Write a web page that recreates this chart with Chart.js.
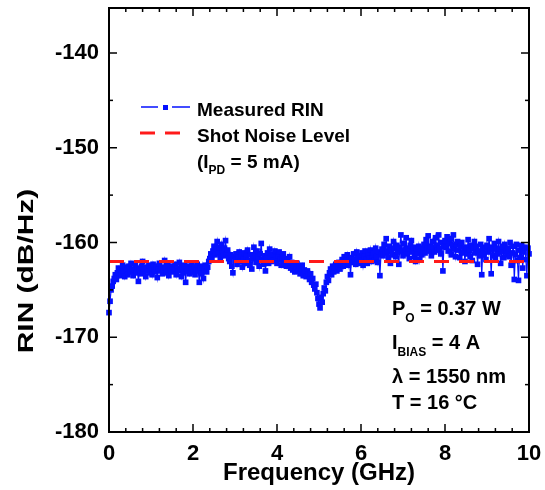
<!DOCTYPE html>
<html>
<head>
<meta charset="utf-8">
<script src="https://cdn.jsdelivr.net/npm/chart.js@4.4.1/dist/chart.umd.min.js"></script>
<style>
html,body{margin:0;padding:0;background:#fff;}
#c{display:block;}
</style>
</head>
<body>
<canvas id="c" width="545" height="490" style="width:545px;height:490px"></canvas>
<script>
// ---------- DATA ----------
const freqMHz = [
 0,25,50,75,100,125,150,175,200,225,250,275,300,325,350,375,400,425,450,475,
 500,525,550,575,600,625,650,675,700,725,750,775,800,825,850,875,900,925,950,975,
 1000,1025,1050,1075,1100,1125,1150,1175,1200,1225,1250,1275,1300,1325,1350,1375,1400,1425,1450,1475,
 1500,1525,1550,1575,1600,1625,1650,1675,1700,1725,1750,1775,1800,1825,1850,1875,1900,1925,1950,1975,
 2000,2025,2050,2075,2100,2125,2150,2175,2200,2225,2250,2275,2300,2325,2350,2375,2400,2425,2450,2475,
 2500,2525,2550,2575,2600,2625,2650,2675,2700,2725,2750,2775,2800,2825,2850,2875,2900,2925,2950,2975,
 3000,3025,3050,3075,3100,3125,3150,3175,3200,3225,3250,3275,3300,3325,3350,3375,3400,3425,3450,3475,
 3500,3525,3550,3575,3600,3625,3650,3675,3700,3725,3750,3775,3800,3825,3850,3875,3900,3925,3950,3975,
 4000,4025,4050,4075,4100,4125,4150,4175,4200,4225,4250,4275,4300,4325,4350,4375,4400,4425,4450,4475,
 4500,4525,4550,4575,4600,4625,4650,4675,4700,4725,4750,4775,4800,4825,4850,4875,4900,4925,4950,4975,
 5000,5025,5050,5075,5100,5125,5150,5175,5200,5225,5250,5275,5300,5325,5350,5375,5400,5425,5450,5475,
 5500,5525,5550,5575,5600,5625,5650,5675,5700,5725,5750,5775,5800,5825,5850,5875,5900,5925,5950,5975,
 6000,6025,6050,6075,6100,6125,6150,6175,6200,6225,6250,6275,6300,6325,6350,6375,6400,6425,6450,6475,
 6500,6525,6550,6575,6600,6625,6650,6675,6700,6725,6750,6775,6800,6825,6850,6875,6900,6925,6950,6975,
 7000,7025,7050,7075,7100,7125,7150,7175,7200,7225,7250,7275,7300,7325,7350,7375,7400,7425,7450,7475,
 7500,7525,7550,7575,7600,7625,7650,7675,7700,7725,7750,7775,7800,7825,7850,7875,7900,7925,7950,7975,
 8000,8025,8050,8075,8100,8125,8150,8175,8200,8225,8250,8275,8300,8325,8350,8375,8400,8425,8450,8475,
 8500,8525,8550,8575,8600,8625,8650,8675,8700,8725,8750,8775,8800,8825,8850,8875,8900,8925,8950,8975,
 9000,9025,9050,9075,9100,9125,9150,9175,9200,9225,9250,9275,9300,9325,9350,9375,9400,9425,9450,9475,
 9500,9525,9550,9575,9600,9625,9650,9675,9700,9725,9750,9775,9800,9825,9850,9875,9900,9925,9950,9975,
 10000
];
const measuredRIN = [
 -167.4,-166.2,-165.0,-164.6,-164.1,-163.8,-163.4,-163.9,-163.2,-162.7,-163.5,-162.9,-163.3,-162.4,-163.0,-163.6,-162.6,-162.9,-163.4,-162.5,
 -163.1,-162.2,-162.8,-163.5,-162.9,-162.3,-163.2,-162.7,-164.1,-162.9,-163.3,-162.5,-162.0,-163.1,-162.8,-163.6,-162.6,-163.0,-162.4,-163.2,
 -162.7,-163.4,-162.3,-162.9,-163.1,-162.5,-163.7,-162.8,-162.2,-163.0,-162.6,-163.3,-162.9,-161.9,-162.7,-163.2,-162.4,-163.5,-162.8,-163.0,
 -162.5,-163.1,-162.8,-162.3,-163.4,-162.7,-163.0,-162.1,-162.9,-163.6,-162.6,-163.2,-162.4,-164.2,-162.8,-163.0,-162.5,-163.3,-162.7,-162.2,
 -163.1,-162.6,-163.4,-162.9,-162.3,-163.0,-164.2,-162.7,-163.3,-162.5,-163.8,-162.9,-162.4,-163.1,-162.6,-162.0,-161.7,-161.2,-161.6,-160.9,
 -160.4,-161.3,-160.7,-159.9,-161.1,-160.5,-161.6,-160.2,-160.9,-161.4,-160.6,-159.8,-161.2,-160.8,-161.7,-162.0,-161.3,-162.5,-163.2,-161.5,
 -161.9,-161.2,-162.3,-161.6,-161.0,-162.0,-161.4,-162.6,-161.8,-161.1,-162.2,-161.5,-160.8,-161.9,-162.4,-161.3,-162.8,-161.7,-160.5,-161.4,
 -162.1,-160.9,-161.6,-162.5,-161.2,-160.1,-161.8,-162.3,-161.4,-163.0,-161.7,-161.1,-162.2,-160.7,-161.5,-162.0,-161.3,-161.9,-160.9,-161.6,
 -162.2,-161.4,-161.0,-161.8,-162.4,-161.6,-161.2,-162.1,-161.7,-162.5,-161.9,-162.3,-161.5,-162.7,-162.1,-162.9,-162.4,-163.1,-162.6,-162.2,
 -163.0,-162.5,-163.3,-162.8,-162.4,-163.5,-162.9,-163.2,-163.6,-163.0,-163.4,-163.9,-163.3,-164.2,-163.8,-164.5,-164.9,-164.4,-165.3,-165.9,
 -166.5,-166.9,-165.8,-166.3,-165.4,-164.8,-165.1,-164.2,-163.6,-164.0,-163.2,-162.8,-163.4,-162.5,-163.1,-162.7,-162.3,-163.0,-162.6,-162.1,
 -162.8,-162.3,-161.8,-162.5,-161.5,-162.2,-161.9,-161.3,-162.4,-161.7,-163.4,-161.6,-162.1,-161.2,-161.8,-162.3,-161.0,-161.7,-162.2,-161.4,
 -161.9,-161.1,-162.4,-161.5,-160.9,-161.8,-162.2,-161.3,-161.7,-160.8,-162.0,-161.4,-161.1,-161.9,-160.6,-161.5,-162.1,-161.0,-163.5,-161.3,
 -160.7,-161.4,-160.2,-161.1,-159.6,-160.9,-161.6,-160.4,-162.2,-160.8,-161.3,-159.9,-160.6,-161.5,-160.3,-161.0,-162.3,-160.5,-159.2,-160.9,
 -161.4,-160.1,-160.8,-159.5,-161.2,-160.6,-161.7,-160.3,-159.8,-161.0,-160.5,-161.5,-162.0,-160.7,-161.2,-160.4,-161.8,-160.9,-161.3,-160.6,
 -160.2,-161.1,-159.7,-160.6,-159.3,-160.9,-160.4,-161.4,-159.9,-160.5,-161.0,-159.5,-160.3,-160.8,-159.2,-160.6,-161.2,-160.0,-163.0,-160.4,
 -159.8,-160.5,-159.4,-160.9,-160.1,-159.6,-161.3,-160.3,-159.2,-160.7,-161.5,-160.2,-159.9,-160.8,-161.6,-160.4,-160.0,-161.1,-160.6,-162.0,
 -160.5,-161.2,-159.7,-160.8,-161.5,-160.3,-161.9,-160.6,-159.9,-161.1,-160.4,-162.3,-160.9,-161.4,-160.2,-163.4,-160.7,-161.3,-160.5,-161.8,
 -160.3,-161.0,-159.6,-160.8,-163.3,-160.5,-161.4,-160.1,-161.7,-160.6,-161.2,-159.9,-160.7,-162.2,-161.0,-160.4,-161.6,-160.2,-160.9,-161.3,
 -160.6,-161.5,-160.0,-162.4,-161.1,-160.4,-163.9,-161.3,-160.2,-161.9,-164.0,-160.8,-161.6,-160.3,-162.7,-161.0,-160.5,-161.8,-163.5,-160.6,
 -161.2
];
const shotFreqGHz = [0, 10];
const shotNoiseRIN = [-162.0, -162.0];

const xMajorTicks = [0, 2, 4, 6, 8, 10];
const xMinorTicks = [0.4,0.8,1.2,1.6,2.4,2.8,3.2,3.6,4.4,4.8,5.2,5.6,6.4,6.8,7.2,7.6,8.4,8.8,9.2,9.6];
const yMajorTicks = [-180, -170, -160, -150, -140];
const yMinorTicks = [-175, -165, -155, -145];

const seriesNames = ['Measured RIN', 'Shot Noise Level'];
const xTitle = 'Frequency (GHz)';
const yTitle = 'RIN (dB/Hz)';
const annotationLines = [
  [['P',0],['O',1],[' = 0.37 W',0]],
  [['I',0],['BIAS',1],[' = 4 A',0]],
  [['\u03BB = 1550 nm',0]],
  [['T = 16 \u00B0C',0]]
];
const legendNote = [['(I',0],['PD',1],[' = 5 mA)',0]];

// ---------- CHART ----------
const FONT = "'Liberation Sans', Arial, Helvetica, sans-serif";
const BLUE = '#0510ff';
const RED = '#ff1a1a';

function drawParts(ctx, x, y, parts, size, subSize, subDrop) {
  let cx = x;
  parts.forEach(([t, sub]) => {
    ctx.font = 'bold ' + (sub ? subSize : size) + 'px ' + FONT;
    ctx.fillText(t, cx, sub ? y + subDrop : y);
    cx += ctx.measureText(t).width;
  });
}

const framePlugin = {
  id: 'frame',
  afterDraw(chart) {
    const ctx = chart.ctx;
    const {left, right, top, bottom} = chart.chartArea;
    const xs = chart.scales.x, ys = chart.scales.y;
    ctx.save();
    ctx.strokeStyle = '#000';
    ctx.lineWidth = 1.5;
    const seg = (a, b, c, d) => { ctx.beginPath(); ctx.moveTo(a, b); ctx.lineTo(c, d); ctx.stroke(); };
    xMajorTicks.forEach(v => { const p = xs.getPixelForValue(v); seg(p, bottom, p, bottom - 8); seg(p, top, p, top + 8); });
    xMinorTicks.forEach(v => { const p = xs.getPixelForValue(v); seg(p, bottom, p, bottom - 4); seg(p, top, p, top + 4); });
    yMajorTicks.forEach(v => { const p = ys.getPixelForValue(v); seg(left, p, left + 8, p); seg(right, p, right - 8, p); });
    yMinorTicks.forEach(v => { const p = ys.getPixelForValue(v); seg(left, p, left + 4, p); seg(right, p, right - 4, p); });
    ctx.lineWidth = 2;
    ctx.strokeRect(left, top, right - left, bottom - top);

    // y axis title (stretched along its length like the original)
    ctx.save();
    ctx.fillStyle = '#000';
    ctx.translate(33, 271);
    ctx.rotate(-Math.PI / 2);
    ctx.scale(1.36, 1);
    ctx.font = 'bold 22px ' + FONT;
    ctx.textAlign = 'center';
    ctx.textBaseline = 'alphabetic';
    ctx.fillText(yTitle, 0, 0);
    ctx.restore();

    // legend
    ctx.fillStyle = '#000';
    ctx.textBaseline = 'alphabetic';
    ctx.textAlign = 'left';
    ctx.strokeStyle = BLUE;
    ctx.lineWidth = 1.5;
    seg(141, 107, 158, 107);
    seg(172, 107, 190, 107);
    ctx.fillStyle = BLUE;
    ctx.fillRect(163, 105, 5, 5);
    ctx.strokeStyle = RED;
    ctx.lineWidth = 3;
    seg(140, 133, 155, 133);
    seg(165, 133, 180, 133);
    ctx.fillStyle = '#000';
    ctx.font = 'bold 19px ' + FONT;
    ctx.fillText(seriesNames[0], 197, 116);
    ctx.fillText(seriesNames[1], 197, 142);
    drawParts(ctx, 197, 168, legendNote, 19, 12, 6);

    // annotation
    const baselines = [315, 349, 383, 409];
    annotationLines.forEach((parts, i) => drawParts(ctx, 392, baselines[i], parts, 20, 12, 7));
    ctx.restore();
  }
};

new Chart(document.getElementById('c'), {
  type: 'scatter',
  data: {
    datasets: [
      {
        label: seriesNames[1],
        data: shotFreqGHz.map((f, i) => ({x: f, y: shotNoiseRIN[i]})),
        showLine: true,
        borderColor: RED,
        borderWidth: 3,
        borderDash: [15, 10],
        pointRadius: 0,
        order: 0
      },
      {
        label: seriesNames[0],
        data: freqMHz.map((f, i) => ({x: f / 1000, y: measuredRIN[i]})),
        showLine: true,
        borderColor: BLUE,
        backgroundColor: BLUE,
        borderWidth: 1.2,
        pointStyle: 'rect',
        pointRadius: 4,
        pointBorderWidth: 0,
        clip: 5,
        order: 1
      }
    ]
  },
  options: {
    responsive: false,
    animation: false,
    devicePixelRatio: 1,
    layout: {padding: {top: 8, right: 16, bottom: 0, left: 0}},
    plugins: {legend: {display: false}, tooltip: {enabled: false}},
    scales: {
      x: {
        type: 'linear', min: 0, max: 10,
        grid: {display: false, drawTicks: false},
        border: {display: false},
        afterBuildTicks: s => { s.ticks = xMajorTicks.map(v => ({value: v})); },
        afterFit: s => { s.height = 58; s.paddingLeft = 0; s.paddingRight = 0; },
        ticks: {color: '#000', padding: 9, font: {family: FONT, size: 22, weight: 'bold'}, maxRotation: 0},
        title: {display: true, text: xTitle, color: '#000', padding: {top: 0, bottom: 2}, font: {family: FONT, size: 24, weight: 'bold'}}
      },
      y: {
        type: 'linear', min: -180, max: -135.25,
        grid: {display: false, drawTicks: false},
        border: {display: false},
        afterBuildTicks: s => { s.ticks = yMajorTicks.map(v => ({value: v})); },
        afterFit: s => { s.width = 109; s.paddingTop = 0; s.paddingBottom = 0; },
        ticks: {color: '#000', padding: 10, font: {family: FONT, size: 22, weight: 'bold'}},
        title: {display: false}
      }
    }
  },
  plugins: [framePlugin]
});
</script>
</body>
</html>
